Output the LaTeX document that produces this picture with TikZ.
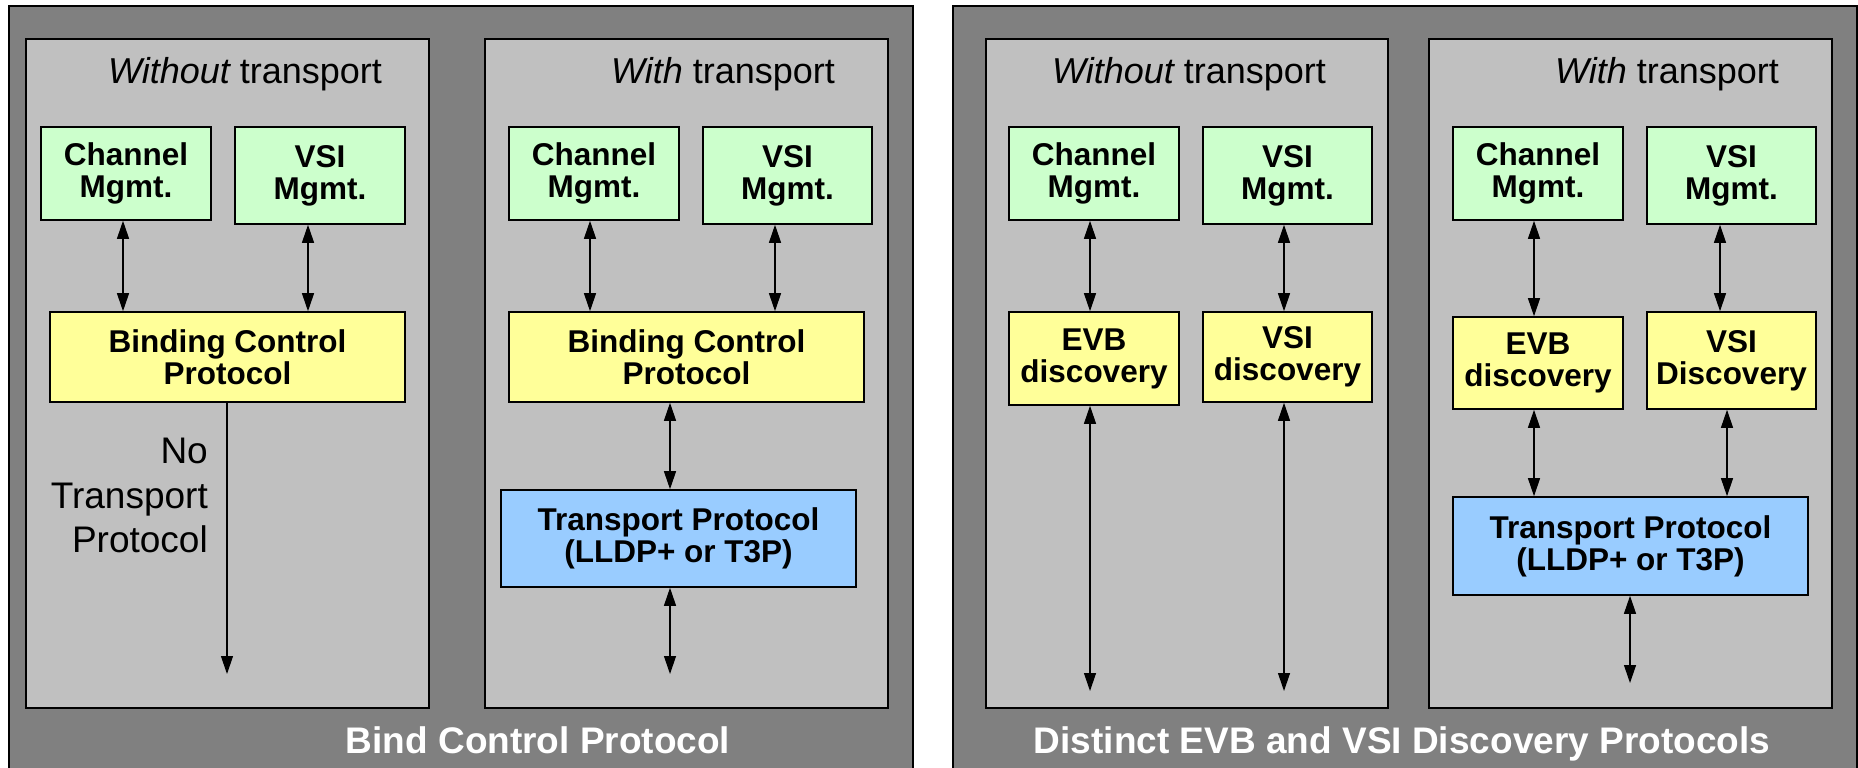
\documentclass[tikz,border=0pt]{standalone}
\usepackage{fontspec}
\setmainfont{Liberation Sans}
\usetikzlibrary{arrows.meta}
\definecolor{outergray}{HTML}{808080}
\definecolor{innergray}{HTML}{C0C0C0}
\definecolor{mgmtgreen}{HTML}{CCFFCC}
\definecolor{protoyellow}{HTML}{FFFF99}
\definecolor{transblue}{HTML}{99CCFF}
\tikzset{
 outerpanel/.style={draw=black, fill=outergray, line width=1.2pt},
 innerpanel/.style={draw=black, fill=innergray, line width=1.8pt},
 boxbase/.style={draw=black, line width=1.6pt, rectangle, inner sep=0pt, align=center, font=\fontsize{31.5}{32}\selectfont\bfseries, text=black},
 mgmt/.style={boxbase, fill=mgmtgreen},
 proto/.style={boxbase, fill=protoyellow},
 trans/.style={boxbase, fill=transblue},
 link/.style={line width=1.2pt, {Triangle[length=18pt,width=12pt]}-{Triangle[length=18pt,width=12pt]}},
 downlink/.style={line width=1.2pt, -{Triangle[length=18pt,width=12pt]}},
 paneltitle/.style={anchor=base, inner sep=0pt, font=\fontsize{36}{40}\selectfont},
 bottomtitle/.style={anchor=base, inner sep=0pt, text=white, font=\fontsize{37}{40}\selectfont\bfseries},
 notelabel/.style={anchor=base east, inner sep=0pt, font=\fontsize{37}{44}\selectfont},
}
\begin{document}
\begin{tikzpicture}[x=1pt,y=-1pt]
\useasboundingbox (0,0) rectangle (1858,768);
\begin{scope}
\clip (0,0) rectangle (1858,768);
\draw[outerpanel] (9,6) rectangle (913,790);
\draw[outerpanel] (953,6) rectangle (1857,790);
\end{scope}
% inner panels
\draw[innerpanel] (26,39) rectangle (429,708);
\draw[innerpanel] (485,39) rectangle (888,708);
\draw[innerpanel] (986,39) rectangle (1388,708);
\draw[innerpanel] (1429,39) rectangle (1832,708);
% panel titles
\node[paneltitle] (t1) at (245,83) {\itshape Without\upshape{} transport};
\node[paneltitle] (t2) at (723,83) {\itshape With\upshape{} transport};
\node[paneltitle] (t3) at (1189,83) {\itshape Without\upshape{} transport};
\node[paneltitle] (t4) at (1667,83) {\itshape With\upshape{} transport};
% bottom titles
\node[bottomtitle] (b1) at (538,753) {Bind Control Protocol};
\node[bottomtitle] (b2) at (1402,753) {Distinct EVB and VSI Discovery Protocols};
% panel 1
\node[mgmt, minimum width=170pt, minimum height=93pt] (ch1) at (126,173.5) {Channel\\Mgmt.};
\node[mgmt, minimum width=170pt, minimum height=97pt] (vsi1) at (320,175.5) {VSI\\Mgmt.};
\node[proto, minimum width=355pt, minimum height=90pt] (bcp1) at (227.5,357) {Binding Control\\Protocol};
\draw[link] ([xshift=-3pt]ch1.south) -- ([xshift=-3pt]ch1.south |- bcp1.north);
\draw[link] ([xshift=-12pt]vsi1.south) -- ([xshift=-12pt]vsi1.south |- bcp1.north);
\coordinate (end1) at (227,674);
\draw[downlink] (bcp1.south -| end1) -- (end1);
\node[notelabel] (nt1) at (208,463) {No};
\node[notelabel] (nt2) at (208,508) {Transport};
\node[notelabel] (nt3) at (208,552) {Protocol};
% panel 2
\node[mgmt, minimum width=170pt, minimum height=93pt] (ch2) at (594,173.5) {Channel\\Mgmt.};
\node[mgmt, minimum width=169pt, minimum height=97pt] (vsi2) at (787.5,175.5) {VSI\\Mgmt.};
\node[proto, minimum width=355pt, minimum height=90pt] (bcp2) at (686.5,357) {Binding Control\\Protocol};
\node[trans, minimum width=355pt, minimum height=97pt] (tp2) at (678.5,538.5) {Transport Protocol\\(LLDP+ or T3P)};
\draw[link] ([xshift=-4pt]ch2.south) -- ([xshift=-4pt]ch2.south |- bcp2.north);
\draw[link] ([xshift=-12.5pt]vsi2.south) -- ([xshift=-12.5pt]vsi2.south |- bcp2.north);
\coordinate (end2) at (670,674);
\draw[link] (bcp2.south -| end2) -- (tp2.north -| end2);
\draw[link] (tp2.south -| end2) -- (end2);
% panel 3
\node[mgmt, minimum width=170pt, minimum height=93pt] (ch3) at (1094,173.5) {Channel\\Mgmt.};
\node[mgmt, minimum width=169pt, minimum height=97pt] (vsi3) at (1287.5,175.5) {VSI\\Mgmt.};
\node[proto, minimum width=170pt, minimum height=93pt] (evb3) at (1094,358.5) {EVB\\discovery};
\node[proto, minimum width=169pt, minimum height=90pt] (vd3) at (1287.5,357) {VSI\\discovery};
\coordinate (end3a) at (1090,691);
\coordinate (end3b) at (1284,691);
\draw[link] (ch3.south -| end3a) -- (evb3.north -| end3a);
\draw[link] (vsi3.south -| end3b) -- (vd3.north -| end3b);
\draw[link] (evb3.south -| end3a) -- (end3a);
\draw[link] (vd3.south -| end3b) -- (end3b);
% panel 4
\node[mgmt, minimum width=170pt, minimum height=93pt] (ch4) at (1538,173.5) {Channel\\Mgmt.};
\node[mgmt, minimum width=169pt, minimum height=97pt] (vsi4) at (1731.5,175.5) {VSI\\Mgmt.};
\node[proto, minimum width=170pt, minimum height=92pt] (evb4) at (1538,363) {EVB\\discovery};
\node[proto, minimum width=169pt, minimum height=97pt] (vd4) at (1731.5,360.5) {VSI\\Discovery};
\node[trans, minimum width=355pt, minimum height=98pt] (tp4) at (1630.5,546) {Transport Protocol\\(LLDP+ or T3P)};
\coordinate (c4a) at (1534,0);
\coordinate (c4b) at (1720,0);
\coordinate (c4c) at (1727,0);
\draw[link] (ch4.south -| c4a) -- (evb4.north -| c4a);
\draw[link] (vsi4.south -| c4b) -- (vd4.north -| c4b);
\draw[link] (evb4.south -| c4a) -- (tp4.north -| c4a);
\draw[link] (vd4.south -| c4c) -- (tp4.north -| c4c);
\coordinate (end4) at (1630,683);
\draw[link] (tp4.south -| end4) -- (end4);
\end{tikzpicture}
\end{document}
